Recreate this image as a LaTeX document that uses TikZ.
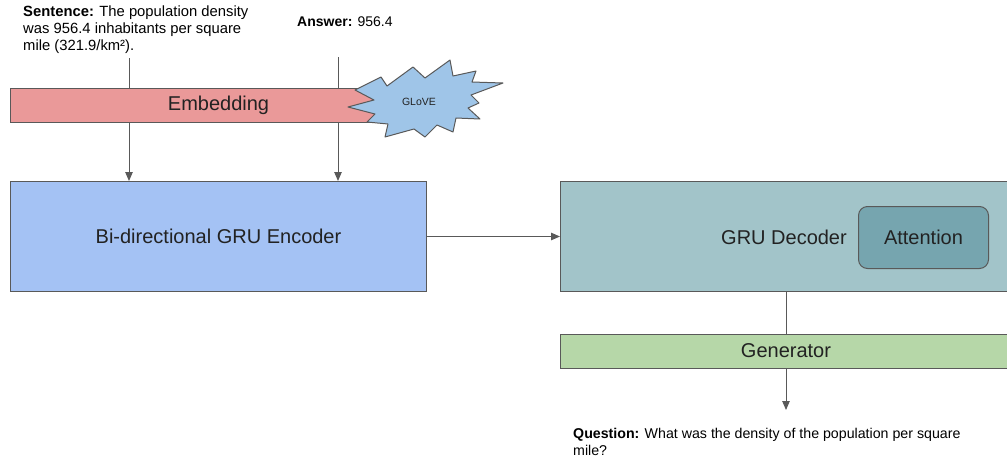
\documentclass[tikz,border=0pt]{standalone}
\usepackage{fontspec}
\setmainfont{Liberation Sans}
\usetikzlibrary{arrows.meta}
\definecolor{edge}{HTML}{595959}
\definecolor{embfill}{HTML}{EA9999}
\definecolor{glovefill}{HTML}{9FC5E8}
\definecolor{encfill}{HTML}{A4C2F4}
\definecolor{decfill}{HTML}{A2C4C9}
\definecolor{attfill}{HTML}{76A5AF}
\definecolor{genfill}{HTML}{B6D7A8}
\definecolor{txt}{HTML}{222222}
\tikzset{
  box/.style={draw=edge, line width=1pt, text=txt},
  conn/.style={draw=edge, line width=1pt},
  arr/.style={conn, -{Triangle[length=9pt,width=7.5pt]}},
  lbl/.style={inner sep=0pt, text=black, font=\fontsize{14.8}{17}\selectfont, align=left},
  big/.style={font=\fontsize{20}{22}\selectfont},
}
\begin{document}
\begin{tikzpicture}[x=1pt,y=-1pt]
\useasboundingbox (0,0) rectangle (1007,461);
\clip (0,0) rectangle (1007,461);
% labels
\node[lbl, anchor=north west] (sent) at (23,6) {\textbf{Sentence:} The population density\\was 956.4 inhabitants per square\\mile (321.9/km²).};
\node[lbl, anchor=north west, font=\fontsize{14}{17}\selectfont] (ans) at (297,17) {\textbf{Answer:} 956.4};
\coordinate (s0) at (129,58);
\coordinate (a0) at (338,57);
% encoder
\node[box, fill=encfill, minimum width=416pt, minimum height=110pt, anchor=north west, big] (enc) at (10,181) {Bi-directional GRU Encoder};
% arrows into encoder
\draw[arr] (s0) -- (s0 |- enc.north);
\draw[arr] (a0) -- (a0 |- enc.north);
% embedding bar
\node[box, fill=embfill, minimum width=416pt, minimum height=34pt, anchor=north west, big] (emb) at (10,88) {Embedding};
% GLoVE starburst
\filldraw[draw=edge, fill=glovefill, line width=1pt, line join=round]
 (355,90) -- (381,77) -- (387,86) -- (413,67) -- (425,78) -- (450,60) -- (453,76) -- (476,71) -- (472,82) -- (503,83)
 -- (471,95) -- (479,103) -- (468,108) -- (480,119) -- (456,118) -- (453,132) -- (437,125) -- (425,137) -- (414,129)
 -- (385,137) -- (388,124) -- (367,122) -- (375,114) -- (348,107) -- (374,100) -- cycle;
\node[font=\fontsize{10.5}{11}\selectfont, text=txt] (glove) at (419,102) {GLoVE};
% decoder
\node[box, fill=decfill, minimum width=460pt, minimum height=110pt, anchor=north west] (dec) at (560,181) {};
\node[big, text=txt, anchor=east, inner sep=0pt] (declbl) at (847,237) {GRU Decoder};
\node[box, fill=attfill, rounded corners=9pt, minimum width=130pt, minimum height=62pt, anchor=north west, big] (att) at (858,206) {Attention};
\draw[arr] (enc.east) -- (dec.west);
% generator
\node[box, fill=genfill, minimum width=460pt, minimum height=34pt, anchor=north west] (gen) at (560,334) {};
\node[big, text=txt] (genlbl) at (786,351) {Generator};
\coordinate (d0) at (786,291);
\draw[conn] (d0) -- (d0 |- gen.north);
\coordinate (g0) at (786,368);
\coordinate (g1) at (786,410);
\draw[arr] (g0) -- (g1);
\node[lbl, anchor=north west, font=\fontsize{14.2}{17}\selectfont] (quest) at (573,428) {\textbf{Question:} What was the density of the population per square\\mile?};
\end{tikzpicture}
\end{document}
